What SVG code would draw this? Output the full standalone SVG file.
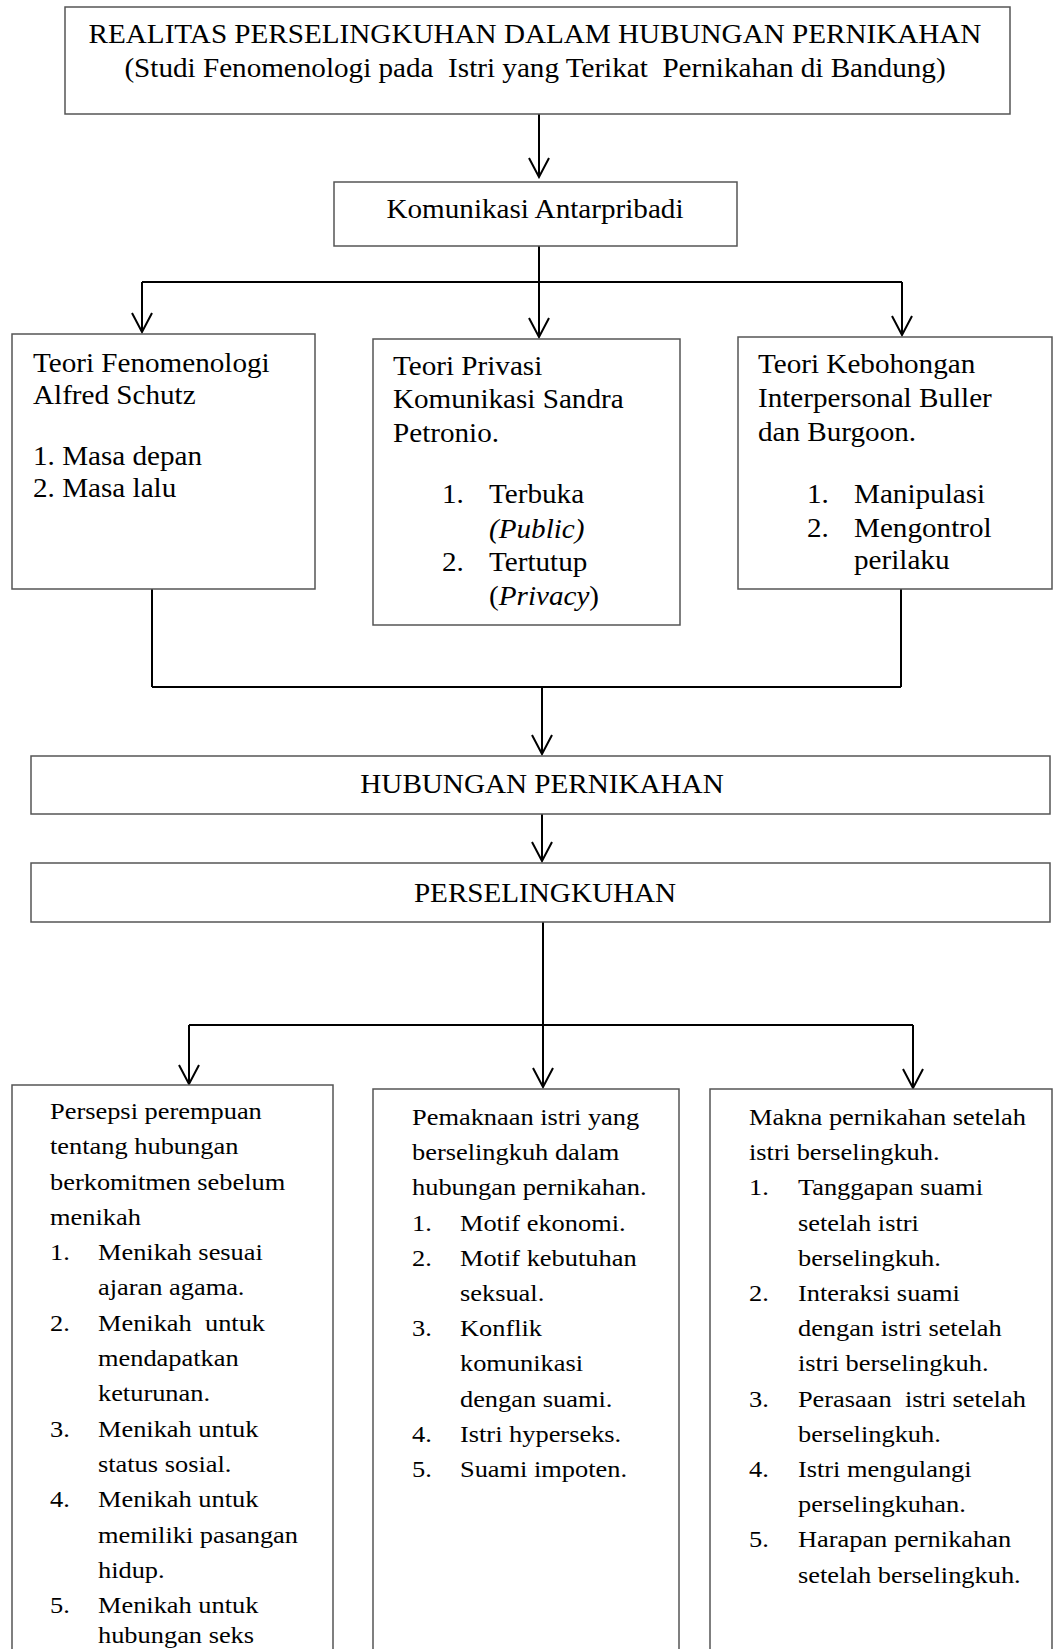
<svg xmlns="http://www.w3.org/2000/svg" width="1055" height="1649" viewBox="0 0 1055 1649">
<style>
.box{fill:#fff;stroke:#555;stroke-width:1.5}
.con{fill:none;stroke:#000;stroke-width:2}
text{font-family:"Liberation Serif","Times New Roman",serif;fill:#000}
.t{font-size:26.5px}
.b{font-size:24px}
.mid{text-anchor:middle}
.i{font-style:italic}
</style>
<defs>
<marker id="arr" viewBox="-22 -12 24 24" refX="0" refY="0" markerWidth="24" markerHeight="24" markerUnits="userSpaceOnUse" orient="auto">
<path d="M-19,-10 L0,0 L-19,10" fill="none" stroke="#000" stroke-width="2"/>
</marker>
</defs>
<rect width="1055" height="1649" fill="#fff"/>

<g id="connectors">
<line class="con" x1="539" y1="114" x2="539" y2="177" marker-end="url(#arr)"/>
<line class="con" x1="539" y1="246" x2="539" y2="337" marker-end="url(#arr)"/>
<line class="con" x1="142" y1="282" x2="902" y2="282"/>
<line class="con" x1="142" y1="282" x2="142" y2="332" marker-end="url(#arr)"/>
<line class="con" x1="902" y1="282" x2="902" y2="335" marker-end="url(#arr)"/>
<line class="con" x1="152" y1="589" x2="152" y2="687"/>
<line class="con" x1="901" y1="589" x2="901" y2="687"/>
<line class="con" x1="152" y1="687" x2="901" y2="687"/>
<line class="con" x1="542" y1="687" x2="542" y2="754" marker-end="url(#arr)"/>
<line class="con" x1="542" y1="814" x2="542" y2="861" marker-end="url(#arr)"/>
<line class="con" x1="543" y1="922" x2="543" y2="1087" marker-end="url(#arr)"/>
<line class="con" x1="189" y1="1025" x2="913" y2="1025"/>
<line class="con" x1="189" y1="1025" x2="189" y2="1084" marker-end="url(#arr)"/>
<line class="con" x1="913" y1="1025" x2="913" y2="1088" marker-end="url(#arr)"/>
</g>

<g id="title">
<rect class="box" x="65" y="7" width="945" height="107"/>
<g transform="matrix(1.1 0 0 1 535 0)">
<text class="t mid" x="0" y="43">REALITAS PERSELINGKUHAN DALAM HUBUNGAN PERNIKAHAN</text>
<text class="t mid" x="0" y="77" xml:space="preserve">(Studi Fenomenologi pada  Istri yang Terikat  Pernikahan di Bandung)</text>
</g>
</g>

<g id="komunikasi">
<rect class="box" x="334" y="182" width="403" height="64"/>
<g transform="matrix(1.1 0 0 1 535 0)">
<text class="t mid" x="0" y="218">Komunikasi Antarpribadi</text>
</g>
</g>

<g id="teori-fenomenologi">
<rect class="box" x="12" y="334" width="303" height="255"/>
<g transform="matrix(1.1 0 0 1 33 0)">
<text class="t" x="0" y="372">Teori Fenomenologi</text>
<text class="t" x="0" y="404">Alfred Schutz</text>
<text class="t" x="0" y="465">1. Masa depan</text>
<text class="t" x="0" y="497">2. Masa lalu</text>
</g>
</g>

<g id="teori-privasi">
<rect class="box" x="373" y="339" width="307" height="286"/>
<g transform="matrix(1.1 0 0 1 393 0)">
<text class="t" x="0" y="375">Teori Privasi</text>
<text class="t" x="0" y="408">Komunikasi Sandra</text>
<text class="t" x="0" y="442">Petronio.</text>
<text class="t" x="44.5" y="503">1.</text>
<text class="t" x="87.3" y="503">Terbuka</text>
<text class="t i" x="87.3" y="538">(Public)</text>
<text class="t" x="44.5" y="571">2.</text>
<text class="t" x="87.3" y="571">Tertutup</text>
<text class="t" x="87.3" y="605">(<tspan class="i">Privacy</tspan>)</text>
</g>
</g>

<g id="teori-kebohongan">
<rect class="box" x="738" y="337" width="314" height="252"/>
<g transform="matrix(1.1 0 0 1 758 0)">
<text class="t" x="0" y="373">Teori Kebohongan</text>
<text class="t" x="0" y="407">Interpersonal Buller</text>
<text class="t" x="0" y="441">dan Burgoon.</text>
<text class="t" x="44.5" y="503">1.</text>
<text class="t" x="87.3" y="503">Manipulasi</text>
<text class="t" x="44.5" y="537">2.</text>
<text class="t" x="87.3" y="537">Mengontrol</text>
<text class="t" x="87.3" y="569">perilaku</text>
</g>
</g>

<g id="hubungan-pernikahan">
<rect class="box" x="31" y="756" width="1019" height="58"/>
<g transform="matrix(1.1 0 0 1 542 0)">
<text class="t mid" x="0" y="793">HUBUNGAN PERNIKAHAN</text>
</g>
</g>

<g id="perselingkuhan">
<rect class="box" x="31" y="863" width="1019" height="59"/>
<g transform="matrix(1.1 0 0 1 545 0)">
<text class="t mid" x="0" y="902">PERSELINGKUHAN</text>
</g>
</g>

<g id="persepsi">
<rect class="box" x="12" y="1085" width="321" height="600"/>
<g transform="matrix(1.1 0 0 1 50 0)">
<text class="b" x="0" y="1119">Persepsi perempuan</text>
<text class="b" x="0" y="1154.3">tentang hubungan</text>
<text class="b" x="0" y="1189.6">berkomitmen sebelum</text>
<text class="b" x="0" y="1224.9">menikah</text>
<text class="b" x="0" y="1260.2">1.</text><text class="b" x="43.6" y="1260.2">Menikah sesuai</text>
<text class="b" x="43.6" y="1295.5">ajaran agama.</text>
<text class="b" x="0" y="1330.8">2.</text><text class="b" x="43.6" y="1330.8" xml:space="preserve">Menikah  untuk</text>
<text class="b" x="43.6" y="1366.1">mendapatkan</text>
<text class="b" x="43.6" y="1401.4">keturunan.</text>
<text class="b" x="0" y="1436.7">3.</text><text class="b" x="43.6" y="1436.7">Menikah untuk</text>
<text class="b" x="43.6" y="1472">status sosial.</text>
<text class="b" x="0" y="1507.3">4.</text><text class="b" x="43.6" y="1507.3">Menikah untuk</text>
<text class="b" x="43.6" y="1542.6">memiliki pasangan</text>
<text class="b" x="43.6" y="1577.9">hidup.</text>
<text class="b" x="0" y="1613.2">5.</text><text class="b" x="43.6" y="1613.2">Menikah untuk</text>
<text class="b" x="43.6" y="1643">hubungan seks</text>
</g>
</g>

<g id="pemaknaan">
<rect class="box" x="373" y="1089" width="306" height="600"/>
<g transform="matrix(1.1 0 0 1 412 0)">
<text class="b" x="0" y="1125">Pemaknaan istri yang</text>
<text class="b" x="0" y="1160.2">berselingkuh dalam</text>
<text class="b" x="0" y="1195.4">hubungan pernikahan.</text>
<text class="b" x="0" y="1230.6">1.</text><text class="b" x="43.6" y="1230.6">Motif ekonomi.</text>
<text class="b" x="0" y="1265.8">2.</text><text class="b" x="43.6" y="1265.8">Motif kebutuhan</text>
<text class="b" x="43.6" y="1301">seksual.</text>
<text class="b" x="0" y="1336.2">3.</text><text class="b" x="43.6" y="1336.2">Konflik</text>
<text class="b" x="43.6" y="1371.4">komunikasi</text>
<text class="b" x="43.6" y="1406.6">dengan suami.</text>
<text class="b" x="0" y="1441.8">4.</text><text class="b" x="43.6" y="1441.8">Istri hyperseks.</text>
<text class="b" x="0" y="1477">5.</text><text class="b" x="43.6" y="1477">Suami impoten.</text>
</g>
</g>

<g id="makna">
<rect class="box" x="710" y="1089" width="342" height="600"/>
<g transform="matrix(1.1 0 0 1 749 0)">
<text class="b" x="0" y="1125">Makna pernikahan setelah</text>
<text class="b" x="0" y="1160.2">istri berselingkuh.</text>
<text class="b" x="0" y="1195.4">1.</text><text class="b" x="44.5" y="1195.4">Tanggapan suami</text>
<text class="b" x="44.5" y="1230.6">setelah istri</text>
<text class="b" x="44.5" y="1265.8">berselingkuh.</text>
<text class="b" x="0" y="1301">2.</text><text class="b" x="44.5" y="1301">Interaksi suami</text>
<text class="b" x="44.5" y="1336.2">dengan istri setelah</text>
<text class="b" x="44.5" y="1371.4">istri berselingkuh.</text>
<text class="b" x="0" y="1406.6">3.</text><text class="b" x="44.5" y="1406.6" xml:space="preserve">Perasaan  istri setelah</text>
<text class="b" x="44.5" y="1441.8">berselingkuh.</text>
<text class="b" x="0" y="1477">4.</text><text class="b" x="44.5" y="1477">Istri mengulangi</text>
<text class="b" x="44.5" y="1512.2">perselingkuhan.</text>
<text class="b" x="0" y="1547.4">5.</text><text class="b" x="44.5" y="1547.4">Harapan pernikahan</text>
<text class="b" x="44.5" y="1582.6">setelah berselingkuh.</text>
</g>
</g>
</svg>
